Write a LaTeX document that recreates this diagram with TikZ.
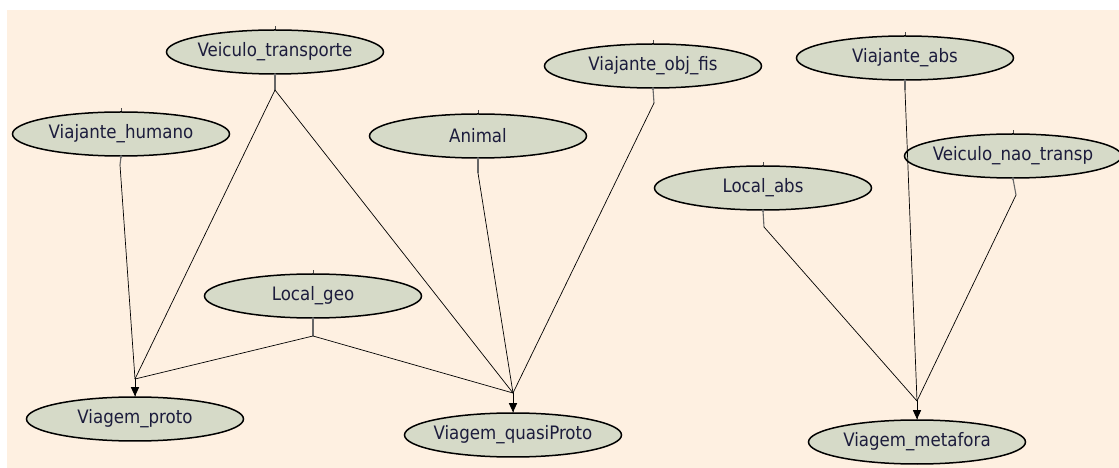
\documentclass[tikz,border=0pt]{standalone}
\usepackage{fontspec}
\setmainfont{DejaVu Sans Condensed}
\usetikzlibrary{shapes.geometric,arrows.meta}
\definecolor{paper}{HTML}{FEF0E1}
\definecolor{nodefill}{HTML}{D6DAC8}
\definecolor{ink}{HTML}{1C1C3C}
\begin{document}
\begin{tikzpicture}[x=1bp,y=-1bp,
  concept/.style={ellipse, draw=black, line width=1.5bp, fill=nodefill,
    minimum width=217bp, minimum height=44bp, inner xsep=-40bp, inner ysep=-8bp,
    font=\fontsize{18.5bp}{20bp}\selectfont, text=ink},
  link/.style={draw=black, line width=0.7bp},
  stub/.style={draw=black!60, line width=1.1bp},
  tick/.style={draw=black!70, line width=0.8bp},
  tip/.style={-{Triangle[length=9bp,width=8bp]}, line width=0.9bp}]
% canvas
\fill[white] (0,0) rectangle (1119,468);
\fill[paper] (7,10) rectangle (1119,468);
\useasboundingbox (0,0) rectangle (1119,468);

% concepts
\node[concept] (vt) at (275,52)  {Veiculo\_transporte};
\node[concept] (vh) at (121,134) {Viajante\_humano};
\node[concept] (vo) at (653,66)  {Viajante\_obj\_fis};
\node[concept] (an) at (478,136) {Animal};
\node[concept] (lg) at (313,296) {Local\_geo};
\node[concept] (va) at (905,58)  {Viajante\_abs};
\node[concept] (vn) at (1013,156){Veiculo\_nao\_transp};
\node[concept] (la) at (763,188) {Local\_abs};
\node[concept] (vp) at (135,419) {Viagem\_proto};
\node[concept] (vq) at (513,435) {Viagem\_quasiProto};
\node[concept] (vm) at (917,442) {Viagem\_metafora};

% small marks on top of the concepts
\foreach \n in {vt,vh,vo,an,lg,va,vn,la,vp,vq,vm}
  \draw[tick] (\n.north) -- ++(0,-3);

% stub ends below the parents
\coordinate (vt-s) at (275,90);
\coordinate (vh-s) at (120,165);
\coordinate (vo-s) at (654,103);
\coordinate (an-s) at (478,173);
\coordinate (lg-s) at (313,336);
\coordinate (va-s) at (905,90);
\coordinate (vn-s) at (1016,195);
\coordinate (la-s) at (764,227);

\foreach \n in {vt,vh,vo,an,lg,va,vn,la}{
  \draw[stub] (\n.south) -- (\n-s);
  \fill[black!55] (\n.south) circle (1.6bp);
}

% junctions above the children
\coordinate (jp) at (135,379);
\coordinate (jq) at (513,393);
\coordinate (jm) at (917,401);

% influences
\draw[link] (vh-s) -- (jp);
\draw[link] (vt-s) -- (jp);
\draw[link] (lg-s) -- (jp);

\draw[link] (vt-s) -- (jq);
\draw[link] (an-s) -- (jq);
\draw[link] (vo-s) -- (jq);
\draw[link] (lg-s) -- (jq);

\draw[link] (la-s) -- (jm);
\draw[link] (va-s) -- (jm);
\draw[link] (vn-s) -- (jm);

% arrows into the children
\draw[tip] (jp) -- (vp.north);
\draw[tip] (jq) -- (vq.north);
\draw[tip] (jm) -- (vm.north);
\end{tikzpicture}
\end{document}
